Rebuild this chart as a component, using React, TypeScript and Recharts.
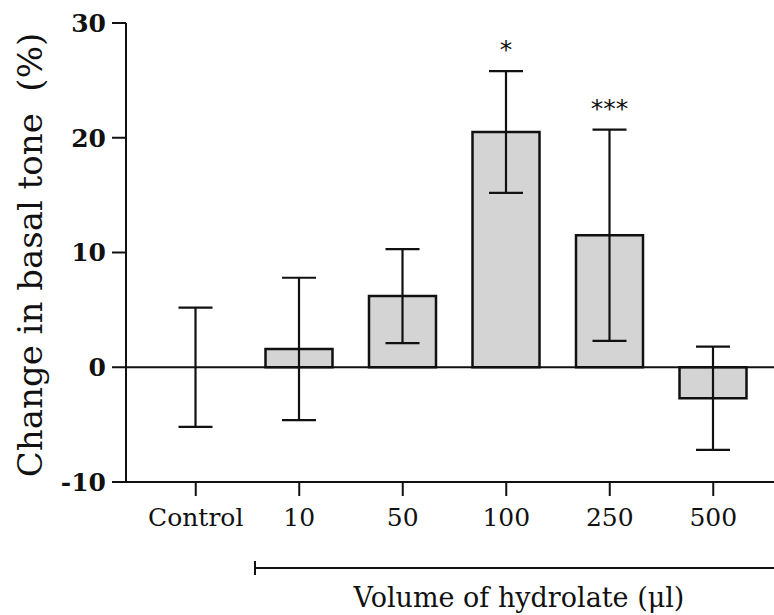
import { Bar, BarChart, Cell, ErrorBar, LabelList, ReferenceLine, XAxis, YAxis } from 'recharts';

const groups = ['Control', '10', '50', '100', '250', '500'];
const changes = [0, 1.6, 6.2, 20.5, 11.5, -2.7];
const sem = [5.2, 6.2, 4.1, 5.3, 9.2, 4.5];
const stars = ['', '', '', '*', '***', ''];
const yTicks = [-10, 0, 10, 20, 30];

const data = groups.map((g, i) => ({ group: g, change: changes[i], err: sem[i] }));

const serif = '"DejaVu Serif", serif';

function StarLabel(props: any) {
  const { x, y, width, height, value } = props;
  const i = groups.indexOf(String(value));
  const txt = stars[i];
  if (!txt) return null;
  // px per unit from the bar itself, so the stars sit above the error cap
  const scale = Math.abs(height) / Math.abs(changes[i]);
  const capY = y - sem[i] * scale;
  return (
    <text
      x={x + width / 2}
      y={capY - 13}
      textAnchor="middle"
      fontFamily='"DejaVu Sans", sans-serif'
      fontSize={25}
      fill="#111"
    >
      {txt}
    </text>
  );
}

function YTitle() {
  return (
    <text
      x={42}
      y={255}
      transform="rotate(-90, 42, 255)"
      textAnchor="middle"
      fontFamily={serif}
      fontSize={34}
      fill="#111"
      style={{ whiteSpace: 'pre' }}
    >
      {'Change in basal tone  (%)'}
    </text>
  );
}

function XTitle(props: any) {
  const { viewBox } = props;
  const lineY = viewBox.y + 86;
  const startX = 255;
  return (
    <g>
      <line x1={startX} y1={lineY} x2={800} y2={lineY} stroke="#111" strokeWidth={2} />
      <line x1={startX} y1={lineY - 7} x2={startX} y2={lineY + 7} stroke="#111" strokeWidth={2} />
      <text x={519} y={viewBox.y + 125} textAnchor="middle" fontFamily={serif} fontSize={27} fill="#111">
        Volume of hydrolate (μl)
      </text>
    </g>
  );
}

export default function App() {
  return (
    <div style={{ position: 'absolute', left: 0, top: 0, width: 774, height: 615, overflow: 'hidden', background: '#fff' }}>
      <BarChart width={783} height={615} data={data} margin={{ top: 23, right: 0, left: 0, bottom: 103 }}>
        <XAxis
          dataKey="group"
          padding={{ left: 18, right: 18 }}
          axisLine={{ stroke: '#111', strokeWidth: 2 }}
          tickLine={{ stroke: '#111', strokeWidth: 2 }}
          tickSize={14}
          tickMargin={12}
          interval={0}
          tick={{ fontSize: 25, fill: '#111', fontFamily: serif }}
          label={<XTitle />}
        />
        <YAxis
          width={126}
          domain={[-10, 30]}
          ticks={yTicks}
          interval={0}
          axisLine={{ stroke: '#111', strokeWidth: 2 }}
          tickLine={{ stroke: '#111', strokeWidth: 2 }}
          tickSize={14}
          tickMargin={6}
          tick={{ fontSize: 25, fontWeight: 'bold', fill: '#111', fontFamily: serif }}
          label={<YTitle />}
        />
        <Bar
          dataKey="change"
          barSize={67}
          minPointSize={1}
          fill="#d4d4d4"
          stroke="#111"
          strokeWidth={2.5}
          isAnimationActive={false}
        >
          {changes.map((v, i) => (
            <Cell key={groups[i]} fill={v === 0 ? 'none' : '#d4d4d4'} stroke={v === 0 ? 'none' : '#111'} />
          ))}
          <ErrorBar dataKey="err" width={17} stroke="#111" strokeWidth={2.2} isAnimationActive={false} />
          <LabelList dataKey="group" content={<StarLabel />} />
        </Bar>
        <ReferenceLine y={0} stroke="#111" strokeWidth={2} />
      </BarChart>
    </div>
  );
}
